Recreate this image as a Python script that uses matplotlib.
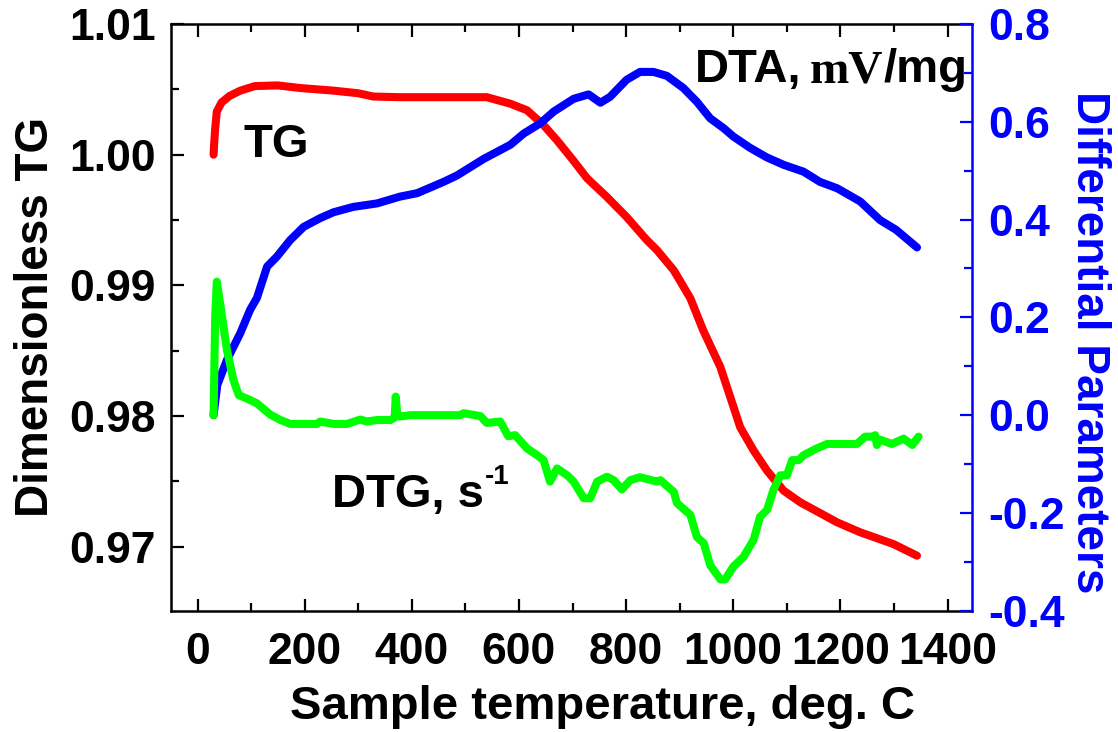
import matplotlib
matplotlib.use("Agg")
import matplotlib.pyplot as plt
from matplotlib.ticker import MultipleLocator

plt.rcParams['font.family'] = ['Liberation Sans', 'DejaVu Sans']
plt.rcParams['font.weight'] = 'bold'

# TG curve (left axis), temperature in deg. C
tg_temp = [30, 31, 33, 36, 45, 60, 80, 107, 150, 192, 254, 300, 328, 378, 450, 540,
           584, 615, 646, 671, 701, 727, 764, 801, 839, 858, 889, 920, 944, 976,
           1013, 1038, 1063, 1094, 1125, 1194, 1237, 1299, 1343]
tg_val = [1.0000, 1.0008, 1.0020, 1.0033, 1.0040, 1.0045, 1.0049, 1.00525, 1.00530,
          1.00510, 1.00490, 1.00470, 1.00445, 1.00440, 1.00440, 1.00440,
          1.00390, 1.00340, 1.00226, 1.00110, 0.99958, 0.99820, 0.99677, 0.99523,
          0.99345, 0.99268, 0.99115, 0.98900, 0.98655, 0.98374,
          0.97914, 0.97736, 0.97582, 0.97429, 0.97340, 0.97186, 0.97110, 0.97020, 0.96931]

# DTA curve (right axis)
dta_temp = [30, 37, 55, 80, 98, 111, 130, 148, 173, 198, 229, 254, 291, 335, 378, 410,
            459, 484, 534, 584, 609, 640, 665, 702, 730, 752, 770, 801, 826, 851, 876,
            907, 932, 957, 982, 1000, 1031, 1063, 1094, 1131, 1162, 1194, 1237, 1274,
            1304, 1343]
dta_val = [0.000, 0.062, 0.113, 0.168, 0.215, 0.240, 0.304, 0.324, 0.358, 0.385, 0.403,
           0.415, 0.426, 0.433, 0.447, 0.454, 0.477, 0.490, 0.524, 0.553, 0.576, 0.597,
           0.621, 0.647, 0.656, 0.639, 0.651, 0.686, 0.702, 0.702, 0.694, 0.669, 0.641,
           0.607, 0.587, 0.570, 0.547, 0.527, 0.512, 0.498, 0.477, 0.464, 0.437, 0.399,
           0.379, 0.343]

# DTG curve (right axis)
dtg_temp = [30, 33, 36, 42, 55, 67, 77, 98, 111, 136, 155, 173, 223, 229, 254, 279, 304,
            316, 335, 360, 368, 370, 373, 378, 397, 490, 497, 528, 540, 565, 580, 593,
            615, 634, 646, 658, 671, 690, 702, 721, 733, 746, 764, 777, 792, 808, 826,
            858, 864, 889, 895, 920, 932, 945, 957, 976, 985, 1000, 1019, 1038, 1050,
            1063, 1075, 1088, 1100, 1110, 1122, 1131, 1156, 1175, 1231, 1246, 1259,
            1265, 1268, 1274, 1296, 1318, 1334, 1346]
dtg_val = [0.000, 0.200, 0.273, 0.230, 0.133, 0.072, 0.041, 0.031, 0.024, 0.001, -0.010,
           -0.018, -0.018, -0.013, -0.018, -0.018, -0.009, -0.013, -0.010, -0.010, -0.005,
           0.038, 0.000, -0.003, 0.000, 0.000, 0.004, -0.002, -0.016, -0.013, -0.043,
           -0.041, -0.068, -0.082, -0.092, -0.136, -0.109, -0.123, -0.136, -0.170, -0.170,
           -0.136, -0.126, -0.133, -0.152, -0.133, -0.127, -0.136, -0.133, -0.157, -0.180,
           -0.204, -0.249, -0.262, -0.307, -0.336, -0.336, -0.310, -0.290, -0.255, -0.208,
           -0.194, -0.153, -0.123, -0.123, -0.092, -0.092, -0.082, -0.068, -0.059, -0.059,
           -0.044, -0.044, -0.041, -0.061, -0.050, -0.059, -0.048, -0.061, -0.044]

RED = (1, 0, 0)
BLUE = (0, 0, 1)
GREEN = (0, 1, 0)
lw = 5.8
fs_tick = 32
fs_xlabel = 34
fs_ylabel = 33
fs_note = 34

fig = plt.figure(figsize=(11.18, 7.32), dpi=100)
ax = fig.add_axes([0.1527, 0.1657, 0.7164, 0.8015])
ax2 = ax.twinx()

ax.plot(tg_temp, tg_val, color=RED, lw=lw, solid_capstyle='round', solid_joinstyle='round')
ax2.plot(dta_temp, dta_val, color=BLUE, lw=lw, solid_capstyle='round', solid_joinstyle='round')
ax2.plot(dtg_temp, dtg_val, color=GREEN, lw=lw, solid_capstyle='round', solid_joinstyle='round')

ax.set_xlim(-50, 1445)
ax.set_ylim(0.9651, 1.01)
ax2.set_ylim(-0.4, 0.8)

ax.xaxis.set_major_locator(MultipleLocator(200))
ax.xaxis.set_minor_locator(MultipleLocator(100))
ax.yaxis.set_major_locator(MultipleLocator(0.01))
ax.yaxis.set_minor_locator(MultipleLocator(0.005))
ax2.yaxis.set_major_locator(MultipleLocator(0.2))
ax2.yaxis.set_minor_locator(MultipleLocator(0.1))
ax.yaxis.set_major_formatter(plt.FuncFormatter(lambda v, p: f"{v:.2f}"))
ax2.yaxis.set_major_formatter(plt.FuncFormatter(lambda v, p: f"{v:.1f}"))

ax.tick_params(axis='x', which='both', direction='in', top=True, width=1.6,
               labelsize=fs_tick, pad=15)
ax.tick_params(axis='y', which='both', direction='in', width=1.6, labelsize=fs_tick, pad=11)
ax.tick_params(which='major', length=9)
ax.tick_params(which='minor', length=6)
ax2.tick_params(axis='y', which='both', direction='in', colors=BLUE, width=1.6,
                labelsize=fs_tick, pad=12)
ax2.tick_params(which='major', length=9)
ax2.tick_params(which='minor', length=6)

for s in ax.spines.values():
    s.set_linewidth(1.8)
for name in ['left', 'top', 'bottom']:
    ax2.spines[name].set_visible(False)
ax2.spines['right'].set_color(BLUE)
ax2.spines['right'].set_linewidth(1.8)
ax.spines['right'].set_visible(False)

ax.set_xlabel("Sample temperature, deg. C", fontsize=fs_xlabel, fontweight='bold')
ax.xaxis.set_label_coords(0.5385, -0.127)
ax.set_ylabel("Dimensionless TG", fontsize=fs_ylabel, fontweight='bold')
ax.yaxis.set_label_coords(-0.1407, 0.5)
ax2.set_ylabel("Differential Parameters", fontsize=fs_ylabel, fontweight='bold',
               color=BLUE, rotation=270, va='bottom')
ax2.yaxis.set_label_coords(1.1186, 0.457)

# curve annotations
ax.text(0.0903, 0.7733, "TG", transform=ax.transAxes, fontsize=fs_note,
        fontweight='bold', ha='left', va='baseline')
t1 = ax.text(0.6546, 0.9011, "DTA,", transform=ax.transAxes, fontsize=fs_note,
             fontweight='bold', ha='left', va='baseline')
t2 = ax.annotate("mV", xy=(1, 0), xycoords=t1, xytext=(6, 0), textcoords='offset points',
                 fontsize=fs_note, fontweight='bold', family='Liberation Serif',
                 ha='left', va='bottom')
ax.annotate("/mg", xy=(1, 0), xycoords=t2, fontsize=fs_note, fontweight='bold',
            ha='left', va='bottom')
t3 = ax.text(0.201, 0.1773, "DTG, s", transform=ax.transAxes, fontsize=fs_note,
             fontweight='bold', ha='left', va='baseline')
ax.annotate("-1", xy=(1, 1), xycoords=t3, xytext=(1, 6), textcoords='offset points',
            fontsize=20, fontweight='bold', ha='left', va='top')

fig.savefig("out.png", dpi=100)
